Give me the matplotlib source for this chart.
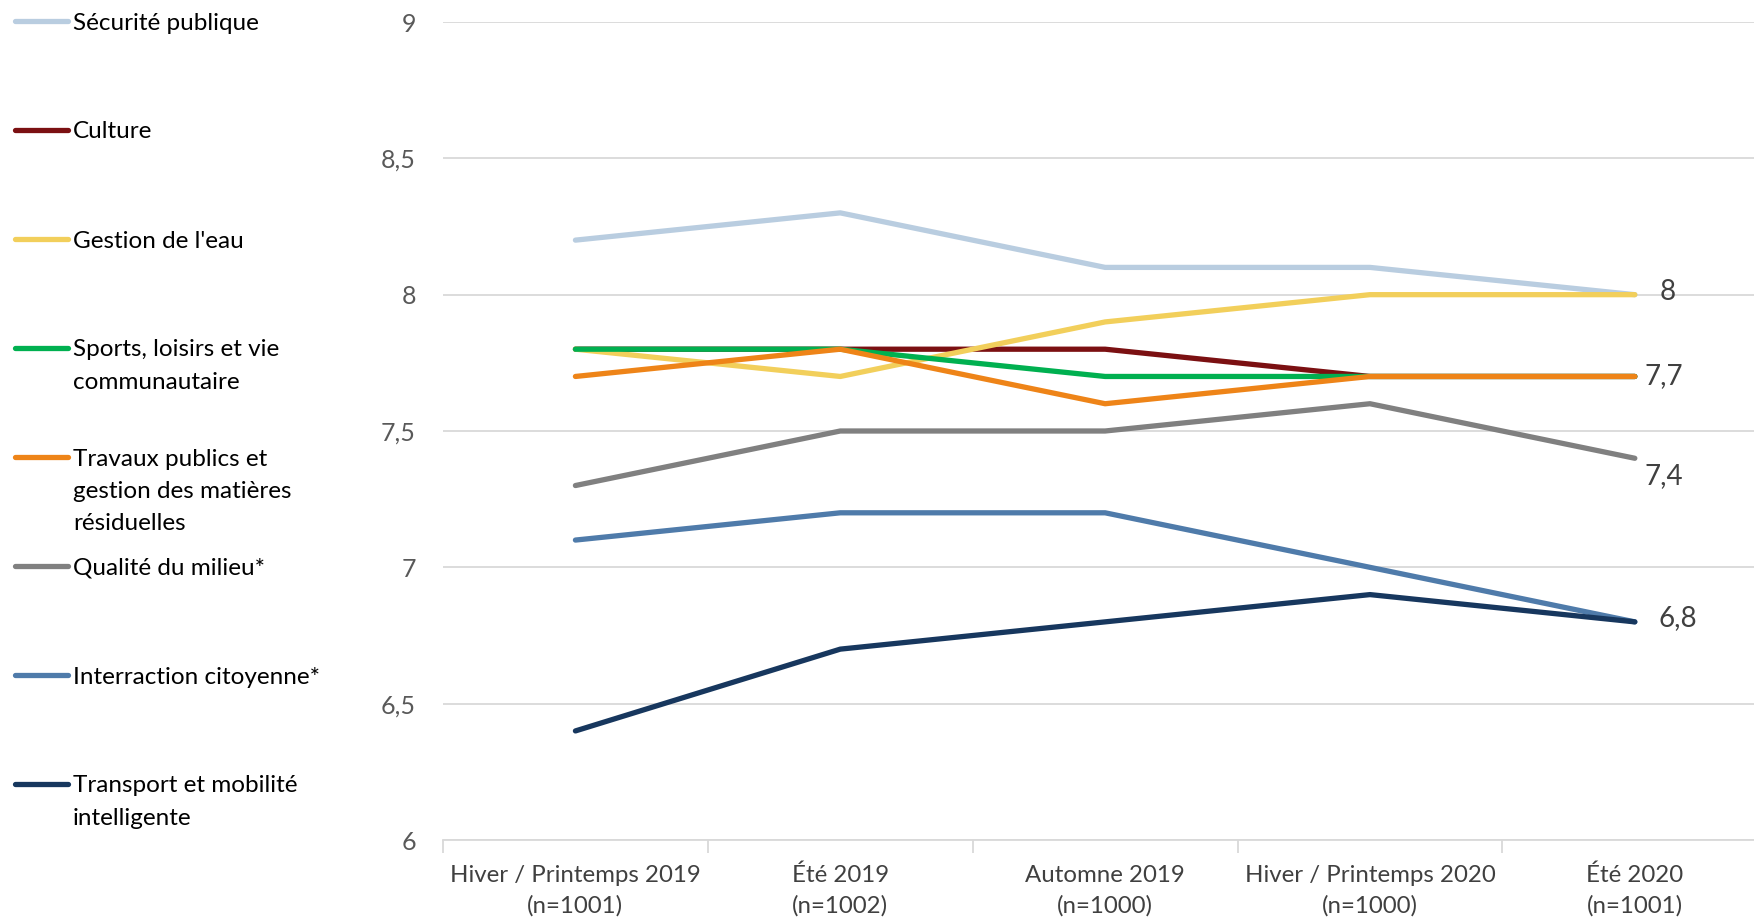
import matplotlib.pyplot as plt
from matplotlib.ticker import FuncFormatter

plt.rcParams["font.family"] = ["Lato", "DejaVu Sans"]

# Données
periodes = ["Hiver / Printemps 2019", "Été 2019", "Automne 2019",
            "Hiver / Printemps 2020", "Été 2020"]
echantillons = ["(n=1001)", "(n=1002)", "(n=1000)", "(n=1000)", "(n=1001)"]

noms = [
    "Sécurité publique",
    "Culture",
    "Gestion de l'eau",
    "Sports, loisirs et vie\ncommunautaire",
    "Travaux publics et\ngestion des matières\nrésiduelles",
    "Qualité du milieu*",
    "Interraction citoyenne*",
    "Transport et mobilité\nintelligente",
]
securite = [8.2, 8.3, 8.1, 8.1, 8.0]
culture = [7.8, 7.8, 7.8, 7.7, 7.7]
eau = [7.8, 7.7, 7.9, 8.0, 8.0]
sports = [7.8, 7.8, 7.7, 7.7, 7.7]
travaux = [7.7, 7.8, 7.6, 7.7, 7.7]
milieu = [7.3, 7.5, 7.5, 7.6, 7.4]
interaction = [7.1, 7.2, 7.2, 7.0, 6.8]
transport = [6.4, 6.7, 6.8, 6.9, 6.8]
series = [securite, culture, eau, sports, travaux, milieu, interaction, transport]

couleurs = ["#B9CDE0", "#7B1012", "#F2CF5B", "#00B050", "#EE8418",
            "#808080", "#4F7BAA", "#17375E"]

# étiquettes sur le dernier point (série, décalage en points)
etiquettes = {2: (18, 2, "left", "center"), 4: (7, 0, "left", "center"),
              5: (7, -13, "left", "center"), 7: (17, 3, "left", "center")}

W, H = 1754, 917
fig = plt.figure(figsize=(W / 100, H / 100), dpi=100)
ax = fig.add_axes([443 / W, 1 - 840 / H, (1754 - 443) / W, (840 - 22) / H])

x = list(range(len(periodes)))
for i, (vals, c) in enumerate(zip(series, couleurs)):
    ax.plot(x, vals, color=c, lw=3.8, solid_capstyle="round",
            solid_joinstyle="round", zorder=3)
    if i in etiquettes:
        dx, dy, ha, va = etiquettes[i]
        v = vals[-1]
        txt = f"{v:g}".replace(".", ",")
        ax.annotate(txt, (x[-1], v), xytext=(dx, dy), textcoords="offset points",
                    ha=ha, va=va, fontsize=20, color="#404040")

ax.set_xlim(-0.5, 4.45)
ax.set_ylim(6, 9)
ax.set_yticks([6, 6.5, 7, 7.5, 8, 8.5, 9])
ax.yaxis.set_major_formatter(FuncFormatter(lambda v, p: f"{v:g}".replace(".", ",")))
ax.grid(axis="y", color="#D9D9D9", lw=1.3, zorder=0)
ax.tick_params(axis="y", length=0, pad=19.5, labelsize=18, labelcolor="#595959")

ax.set_xticks(x)
ax.set_xticklabels([f"{p}\n{n}" for p, n in zip(periodes, echantillons)],
                   fontsize=17.3, color="#404040", linespacing=1.5)
ax.tick_params(axis="x", length=0, pad=18)
ax.set_xticks([-0.5, 0.5, 1.5, 2.5, 3.5], minor=True)
ax.tick_params(axis="x", which="minor", length=9, color="#D9D9D9", width=1.3)

for s in ["top", "right", "left"]:
    ax.spines[s].set_visible(False)
ax.spines["bottom"].set_color("#D9D9D9")
ax.spines["bottom"].set_linewidth(1.3)

# Légende à gauche
y0, pas, interligne = 21, 109, 32.5
for i, (nom, c) in enumerate(zip(noms, couleurs)):
    yc = y0 + i * pas
    fig.add_artist(plt.Line2D([15 / W, 68 / W], [1 - yc / H, 1 - yc / H],
                              color=c, lw=3.8, solid_capstyle="round"))
    for k, ligne in enumerate(nom.split("\n")):
        fig.text(73 / W, 1 - (yc + 2 + k * interligne) / H, ligne, fontsize=17.5,
                 color="#000000", ha="left", va="center")

fig.savefig("out.png", dpi=100)
